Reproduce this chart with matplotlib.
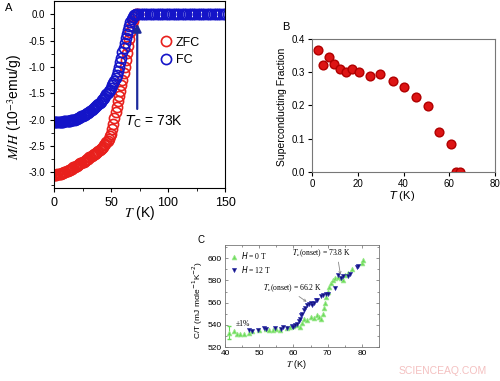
import matplotlib
matplotlib.use("Agg")
import matplotlib.pyplot as plt

# ---------------- panel A: M/H vs T ----------------
t_zfc = [0, 1, 2, 3, 4, 5, 6, 7, 8, 9, 10, 11, 12, 13, 14, 15, 16, 17, 18, 19,
         20, 21, 22, 23, 24, 25, 26, 27, 28, 29, 30, 31, 32, 33, 34, 35, 36, 37,
         38, 39, 40, 41, 42, 43, 44, 45, 46, 47, 48, 49, 50, 51, 52, 53, 54, 55,
         56, 57, 58, 59, 60, 61, 62, 63, 64, 65, 66, 67, 68, 69, 70, 71, 72, 74]
m_zfc = [-3.05, -3.05, -3.05, -3.04, -3.04, -3.03, -3.03, -3.02, -3.01, -3.00,
         -2.99, -2.98, -2.97, -2.96, -2.95, -2.94, -2.93, -2.91, -2.90, -2.89,
         -2.88, -2.86, -2.85, -2.83, -2.82, -2.81, -2.80, -2.78, -2.77, -2.75,
         -2.74, -2.72, -2.71, -2.69, -2.68, -2.66, -2.65, -2.63, -2.62, -2.60,
         -2.58, -2.56, -2.54, -2.52, -2.49, -2.46, -2.43, -2.40, -2.36, -2.32,
         -2.27, -2.18, -2.08, -1.97, -1.86, -1.76, -1.65, -1.55, -1.45, -1.35,
         -1.24, -1.12, -0.99, -0.86, -0.73, -0.60, -0.47, -0.34, -0.22, -0.12,
         -0.05, -0.02, 0.0, 0.0]

t_fc = [0, 1, 2, 3, 4, 5, 6, 7, 8, 9, 10, 11, 12, 13, 14, 15, 16, 17, 18, 19,
        20, 21, 22, 23, 24, 25, 26, 27, 28, 29, 30, 31, 32, 33, 34, 35, 36, 37,
        38, 39, 40, 41, 42, 43, 44, 45, 46, 47, 48, 49, 50, 51, 52, 53, 54, 55,
        56, 57, 58, 59, 60, 61, 62, 63, 64, 65, 66, 67, 68, 69, 70, 71, 72, 74,
        76, 78, 80, 82, 84, 86, 88, 90, 92, 94, 96, 98, 100, 102, 104, 106, 108,
        110, 112, 114, 116, 118, 120, 122, 124, 126, 128, 130, 132, 134, 136,
        138, 140, 142, 144, 146, 148, 150]
m_fc = [-2.05, -2.05, -2.05, -2.05, -2.05, -2.04, -2.04, -2.04, -2.04, -2.03,
        -2.03, -2.03, -2.03, -2.02, -2.02, -2.01, -2.01, -2.00, -2.00, -1.99,
        -1.98, -1.97, -1.96, -1.95, -1.94, -1.93, -1.92, -1.91, -1.90, -1.88,
        -1.87, -1.85, -1.83, -1.82, -1.80, -1.78, -1.76, -1.74, -1.72, -1.70,
        -1.68, -1.66, -1.63, -1.61, -1.58, -1.55, -1.52, -1.49, -1.46, -1.43,
        -1.39, -1.35, -1.31, -1.26, -1.21, -1.15, -1.08, -1.00, -0.91, -0.82,
        -0.72, -0.63, -0.54, -0.45, -0.37, -0.30, -0.22, -0.15, -0.09, -0.05,
        -0.02, -0.01, 0.0, 0.0, 0.0, 0.0, 0.0, 0.0, 0.0, 0.0,
        0.0, 0.0, 0.0, 0.0, 0.0, 0.0, 0.0, 0.0, 0.0, 0.0,
        0.0, 0.0, 0.0, 0.0, 0.0, 0.0, 0.0, 0.0, 0.0, 0.0,
        0.0, 0.0, 0.0, 0.0, 0.0, 0.0, 0.0, 0.0, 0.0, 0.0,
        0.0, 0.0]
tc_a = 73

# ---------------- panel B: superconducting fraction ----------------
t_frac = [2.5, 4.8, 7.4, 9.7, 12.4, 15.0, 17.7, 20.4, 25.2, 29.8, 35.2, 40.4,
          45.5, 50.5, 55.6, 60.7, 62.8, 64.7]
frac = [0.368, 0.323, 0.345, 0.326, 0.310, 0.300, 0.310, 0.300, 0.290, 0.295,
        0.273, 0.256, 0.227, 0.198, 0.120, 0.084, 0.0, 0.0]

# ---------------- panel C: C/T vs T ----------------
t_h0 = [41.3, 42.5, 43.5, 44.5, 45.5, 47, 48, 50, 52, 53, 54, 55, 56, 58, 59, 60,
        61, 62, 62.5, 63, 64, 65, 66, 67, 67.5, 68, 68.5, 69, 69.3, 69.6, 70, 70.5,
        71, 71.5, 72, 73, 74, 74.5, 75, 76, 77, 80, 80.2]
c_h0 = [533, 534, 532, 532, 532, 533, 534, 535, 536, 535, 535, 536, 535, 537, 538,
        539, 540, 538, 542, 545, 544, 547, 546, 549, 547, 545, 550, 555, 560, 565,
        570, 574, 578, 580, 582, 583, 582, 580, 585, 587, 590, 596, 598]
t_h12 = [47, 48, 49.5, 51.5, 52, 54.5, 56.5, 57, 58, 59.5, 60, 60.5, 61, 61.5, 62,
         62.3, 62.5, 63, 63.5, 64, 64.5, 65, 65.5, 66, 66.5, 67, 68, 68.5, 69.5, 70,
         72, 73, 74, 74.5, 76, 76.5, 78.5, 79]
c_h12 = [535, 534, 535.5, 537, 536, 537, 536, 538, 537, 539, 538, 540, 541, 543,
         545, 549, 550, 553, 555, 558, 559, 560, 558, 560, 562, 562, 566, 567, 568,
         568, 573, 585, 582, 584, 584, 586, 592, 593]

fig = plt.figure(figsize=(5.0, 3.81), dpi=100)
plt.rcParams['font.family'] = ['Liberation Sans', 'DejaVu Sans']

# ---- A ----
ax_a = fig.add_axes([0.108, 0.5066, 0.342, 0.490])
ax_a.plot(t_zfc, m_zfc, 'o', mfc='none', mec='#e8201c', mew=1.2, ms=7.3, label='ZFC')
ax_a.plot(t_fc, m_fc, 'o', mfc='none', mec='#1414c8', mew=1.2, ms=7.3, label='FC')
ax_a.annotate('', xy=(tc_a, -0.12), xytext=(tc_a, -1.85),
              arrowprops=dict(arrowstyle='-|>', color='#1c2a9c', lw=1.6,
                              mutation_scale=12))
ax_a.text(62, -2.05, r'$T_{\mathrm{C}}$ = 73K', fontsize=10, va='center')
ax_a.set_xlim(0, 150)
ax_a.set_ylim(-3.3, 0.25)
ax_a.set_xticks([0, 50, 100, 150])
ax_a.set_xticks([25, 75, 125], minor=True)
ax_a.set_yticks([-3.0, -2.5, -2.0, -1.5, -1.0, -0.5, 0.0])
ax_a.set_yticks([-3.25, -2.75, -2.25, -1.75, -1.25, -0.75, -0.25], minor=True)
ax_a.yaxis.set_major_formatter(matplotlib.ticker.FormatStrFormatter('%.1f'))
ax_a.tick_params(axis='x', labelsize=9, length=3, width=0.8)
ax_a.tick_params(axis='y', labelsize=7, length=3, width=0.8)
ax_a.tick_params(which='minor', length=2, width=0.6)
ax_a.legend(loc='upper left', bbox_to_anchor=(0.55, 0.87), frameon=False,
            fontsize=9, handletextpad=0.3, labelspacing=0.45, handlelength=1.0)
fig.text(0.01, 0.978, 'A', fontsize=8, va='center')
fig.text(0.03, 0.72, r'$M/H$ (10$^{-3}$emu/g)', rotation=90, fontsize=10,
         ha='center', va='center', math_fontfamily='stix')
fig.text(0.28, 0.44, r'$T$ (K)', fontsize=10, ha='center', va='center',
         math_fontfamily='stix')

# ---- B ----
ax_b = fig.add_axes([0.624, 0.5486, 0.366, 0.349])
ax_b.plot(t_frac, frac, 'o', color='#dd1414', mec='#b00000', ms=6.3)
ax_b.set_xlim(0, 80)
ax_b.set_ylim(0, 0.4)
ax_b.set_xticks([0, 20, 40, 60, 80])
ax_b.set_yticks([0.0, 0.1, 0.2, 0.3, 0.4])
ax_b.tick_params(labelsize=7, length=3, width=0.8, pad=2)
for s in ax_b.spines.values():
    s.set_color('#777777')
fig.text(0.564, 0.929, 'B', fontsize=8, va='center')
fig.text(0.564, 0.72, 'Superconducting Fraction', rotation=90, fontsize=7.5,
         ha='center', va='center')
fig.text(0.804, 0.486, r'$T$ (K)', fontsize=8, ha='center', va='center')

# ---- C ----
ax_c = fig.add_axes([0.45, 0.0892, 0.308, 0.268])
ax_c.errorbar([t_h0[0]], [c_h0[0]], yerr=6, fmt='none', ecolor='#66dd55', lw=0.8,
              capsize=1.5)
ax_c.plot(t_h0, c_h0, '^', color='#5ed84a', mec='#9be88c', mew=0.6, ms=3.4,
          alpha=0.9, label=r'$H$ = 0 T')
ax_c.plot(t_h12, c_h12, 'v', color='#14147a', mec='#2a2ab0', mew=0.4, ms=3.0,
          label=r'$H$ = 12 T')
ax_c.annotate(r'$T_{\mathrm{c}}$(onset) = 73.8 K', xy=(73.8, 584),
              xytext=(76.8, 599), fontsize=5.5, ha='right', va='bottom',
              family='Liberation Serif', math_fontfamily='stix',
              arrowprops=dict(arrowstyle='->', color='#888888', lw=0.6,
                              shrinkA=0, shrinkB=1, mutation_scale=4,
                              relpos=(0.78, 0.0)))
ax_c.annotate(r'$T_{\mathrm{c}}$(onset) = 66.2 K', xy=(64.2, 560),
              xytext=(51, 568), fontsize=5.5, ha='left', va='bottom',
              family='Liberation Serif', math_fontfamily='stix',
              arrowprops=dict(arrowstyle='->', color='#888888', lw=0.6,
                              shrinkA=0, shrinkB=1, mutation_scale=4,
                              relpos=(0.55, 0.0)))
ax_c.text(43.2, 541, '\u00b11%', fontsize=5.5, family='Liberation Serif',
          va='center')
ax_c.set_xlim(40, 85)
ax_c.set_ylim(520, 612)
ax_c.set_xticks([40, 50, 60, 70, 80])
ax_c.set_yticks([520, 540, 560, 580, 600])
ax_c.set_xticks([45, 55, 65, 75, 85], minor=True)
ax_c.set_yticks([530, 550, 570, 590, 610], minor=True)
ax_c.tick_params(which='both', direction='in', top=True, right=True,
                 labelsize=6, length=2.5, width=0.5, color='#666666', pad=2)
ax_c.tick_params(which='minor', length=1.5)
for s in ax_c.spines.values():
    s.set_color('#777777')
    s.set_linewidth(0.6)
ax_c.legend(loc='upper left', frameon=False, handletextpad=0.4, labelspacing=0.3,
            borderaxespad=0.3, handlelength=1.0,
            prop={'family': 'Liberation Serif', 'size': 5.5})
fig.text(0.394, 0.37, 'C', fontsize=7, va='center')
fig.text(0.396, 0.213, r'C/T (mJ mole$^{-1}$K$^{-2}$)', rotation=90, fontsize=6,
         ha='center', va='center')
fig.text(0.593, 0.042, r'$T$ (K)', fontsize=6.5, ha='center', va='center',
         math_fontfamily='stix')

# watermark
fig.text(0.885, 0.026, 'SCIENCEAQ.COM', fontsize=7.5, color='#f4c0c0',
         ha='center', va='center')

fig.savefig('out.png', dpi=100)
